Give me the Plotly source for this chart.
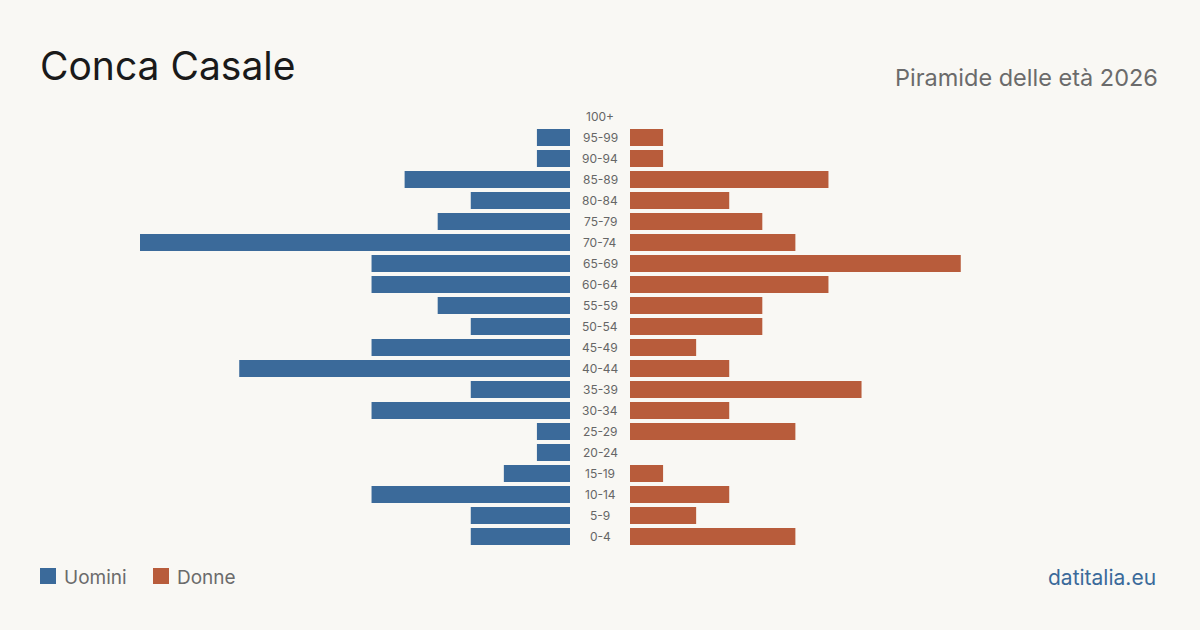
import plotly.graph_objects as go

age_groups = ["0-4", "5-9", "10-14", "15-19", "20-24", "25-29", "30-34", "35-39",
              "40-44", "45-49", "50-54", "55-59", "60-64", "65-69", "70-74",
              "75-79", "80-84", "85-89", "90-94", "95-99", "100+"]
uomini = [3, 3, 6, 2, 1, 1, 6, 3, 10, 6, 3, 4, 6, 6, 13, 4, 3, 5, 1, 1, 0]
donne = [5, 2, 3, 1, 0, 5, 3, 7, 3, 2, 4, 4, 6, 10, 5, 4, 3, 6, 1, 1, 0]

title_text = "Conca Casale"
subtitle_text = "Piramide delle età 2026"
source_text = "datitalia.eu"

BLUE = "#3b6a9a"
ORANGE = "#b85c3b"
BG = "#f9f8f4"
W, H = 1200, 630
FONT = "Inter"
MT, MB = 106, 83
PLOT_H = H - MT - MB


def py(px):
    """convert a pixel row (from top) to plot-area paper coordinate"""
    return (H - MB - px) / PLOT_H


max_val = max(max(uomini), max(donne))

fig = go.Figure()
fig.add_trace(go.Bar(y=age_groups, x=uomini, orientation="h", marker_color=BLUE,
                     marker_line_width=0,
                     name="Uomini", xaxis="x", yaxis="y", showlegend=False,
                     hovertemplate="%{y}: %{x}<extra>Uomini</extra>"))
fig.add_trace(go.Bar(y=age_groups, x=donne, orientation="h", marker_color=ORANGE,
                     marker_line_width=0,
                     name="Donne", xaxis="x2", yaxis="y", showlegend=False,
                     hovertemplate="%{y}: %{x}<extra>Donne</extra>"))

fig.update_layout(
    width=W, height=H,
    paper_bgcolor=BG, plot_bgcolor=BG,
    margin=dict(l=0, r=0, t=MT, b=MB),
    bargap=0.2,
    font=dict(family=FONT),
    xaxis=dict(domain=[140 / W, 570 / W], range=[max_val, 0], visible=False, fixedrange=True),
    xaxis2=dict(domain=[630 / W, 1060 / W], range=[0, max_val], visible=False, fixedrange=True),
    yaxis=dict(type="category", categoryorder="array", categoryarray=age_groups,
               range=[-0.5, len(age_groups) - 0.5], visible=False, fixedrange=True),
)

annotations = []
for g in age_groups:
    annotations.append(dict(x=0.5, xref="paper", y=g, yref="y", text=g, showarrow=False,
                            font=dict(size=12, color="#666666", family=FONT),
                            xanchor="center", yanchor="middle"))

annotations += [
    dict(x=38 / W, y=py(66), xref="paper", yref="paper", text=title_text, showarrow=False,
         xanchor="left", yanchor="middle", font=dict(size=39, color="#1a1a1a", family=FONT)),
    dict(x=1160 / W, y=py(77), xref="paper", yref="paper", text=subtitle_text, showarrow=False,
         xanchor="right", yanchor="middle", font=dict(size=23.5, color="#6b6b6b", family=FONT)),
    dict(x=62 / W, y=py(577), xref="paper", yref="paper", text="Uomini", showarrow=False,
         xanchor="left", yanchor="middle", font=dict(size=19, color="#6b6b6b", family=FONT)),
    dict(x=175 / W, y=py(577), xref="paper", yref="paper", text="Donne", showarrow=False,
         xanchor="left", yanchor="middle", font=dict(size=19, color="#6b6b6b", family=FONT)),
    dict(x=1158 / W, y=py(577), xref="paper", yref="paper", text=source_text, showarrow=False,
         xanchor="right", yanchor="middle", font=dict(size=21, color=BLUE, family=FONT)),
]

shapes = [
    dict(type="rect", xref="paper", yref="paper", x0=40 / W, x1=56 / W,
         y0=py(584), y1=py(568), fillcolor=BLUE, line=dict(width=0)),
    dict(type="rect", xref="paper", yref="paper", x0=153 / W, x1=169 / W,
         y0=py(584), y1=py(568), fillcolor=ORANGE, line=dict(width=0)),
]

fig.update_layout(annotations=annotations, shapes=shapes)
fig.write_html("out.html", config={"displayModeBar": False})
